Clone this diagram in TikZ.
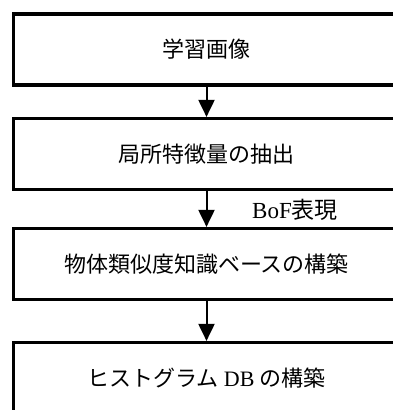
\documentclass[tikz,border=0pt]{standalone}
\usepackage{fontspec}
\setmainfont{Liberation Serif}
\newfontfamily\cjk{Noto Sans CJK JP}
\usetikzlibrary{arrows.meta}
\begin{document}
\begin{tikzpicture}[x=1pt,y=-1pt,
  stepbox/.style={draw=black,line width=3.2pt,rectangle,minimum width=386pt,minimum height=71pt,inner sep=0pt,font=\fontsize{22}{26}\selectfont},
  flow/.style={line width=2pt,-{Triangle[width=16pt,length=17pt]}},
  lbl/.style={anchor=west,inner sep=0pt,font=\fontsize{23}{27}\selectfont}]
\useasboundingbox (0,0) rectangle (393,410);
\clip (0,0) rectangle (393,410);
\node[stepbox] (b1) at (206.5,49.5) {\cjk 学習画像};
\node[stepbox] (b2) at (206.5,154) {\cjk 局所特徴量の抽出};
\node[stepbox] (b3) at (206.5,264) {\cjk 物体類似度知識ベースの構築};
\node[stepbox] (b4) at (206.5,378) {{\cjk ヒストグラム} DB {\cjk の構築}};
\draw[flow] (b1.south) -- (b2.north);
\draw[flow] (b2.south) -- (b3.north);
\draw[flow] (b3.south) -- (b4.north);
\node[lbl] (l1) at (252,210) {BoF{\cjk 表現}};
\end{tikzpicture}
\end{document}
